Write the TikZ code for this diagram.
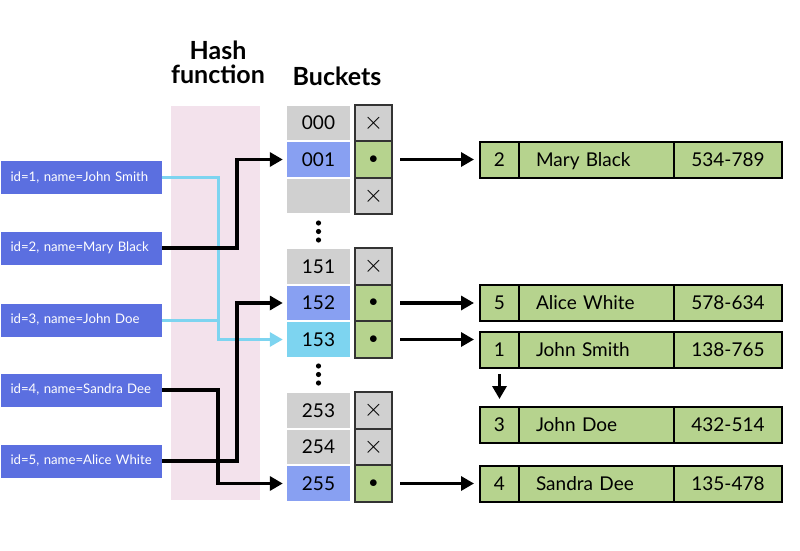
\documentclass[tikz,border=0pt]{standalone}
\usepackage{fontspec}
\setmainfont{Lato}
\usetikzlibrary{positioning,arrows.meta}
\definecolor{itemblue}{HTML}{5B6FE0}
\definecolor{hashpink}{HTML}{F3E2EC}
\definecolor{cellgray}{HTML}{D0D0D0}
\definecolor{cellblue}{HTML}{88A0F2}
\definecolor{cellcyan}{HTML}{7DD4F0}
\definecolor{recgreen}{HTML}{B6D38E}
\begin{document}
\begin{tikzpicture}[x=1pt,y=-1pt,
  item/.style={fill=itemblue,text=white,minimum height=33pt,text width=142pt,inner xsep=9.5pt,inner ysep=0pt,align=left,font=\fontsize{13.2}{15}\selectfont},
  bucket/.style={minimum width=63pt,minimum height=34.5pt,inner sep=0pt,text height=13.5pt,text depth=0pt,font=\fontsize{19}{22}\selectfont},
  slot/.style={draw=black!80,line width=2pt,minimum width=37pt,minimum height=36.5pt,inner sep=0pt,font=\fontsize{19}{22}\selectfont},
  noptr/.style={slot,fill=cellgray,font=\fontsize{28}{28}\selectfont},
  ptr/.style={slot,fill=recgreen},
  field/.style={draw,fill=recgreen,line width=2pt,minimum height=36pt,inner sep=0pt,outer sep=0pt,text height=13.5pt,text depth=0pt,font=\fontsize{19}{22}\selectfont},
  link/.style={line width=3.5pt,-{Triangle[length=13pt,width=14pt]}},
  hashline/.style={cellcyan,line width=3pt}
]
\useasboundingbox (0,0) rectangle (800,551);
\fill[hashpink] (171,106) rectangle (260,500);
\node[align=center,font=\bfseries\fontsize{25}{24}\selectfont] (hashhead) at (218,62) {Hash\\function};
\node[font=\bfseries\fontsize{25}{24}\selectfont] (buckethead) at (337,76) {Buckets};

% keys
\node[item] (item1) at (81.5,177.5) {id=1, name=John Smith};
\node[item] (item2) at (81.5,248) {id=2, name=Mary Black};
\node[item] (item3) at (81.5,320) {id=3, name=John Doe};
\node[item] (item4) at (81.5,390) {id=4, name=Sandra Dee};
\node[item] (item5) at (81.5,461) {id=5, name=Alice White};

% buckets
\foreach \k/\t/\y/\c/\f/\s in {000/000/123/cellgray/noptr/\times,001/001/159.5/cellblue/ptr/\bullet,002//196/cellgray/noptr/\times,
  151/151/266.5/cellgray/noptr/\times,152/152/303/cellblue/ptr/\bullet,153/153/339.5/cellcyan/ptr/\bullet,
  253/253/410.5/cellgray/noptr/\times,254/254/447/cellgray/noptr/\times,255/255/483.5/cellblue/ptr/\bullet}{
  \node[bucket,fill=\c] (b\k) at (318.5,\y) {\t};
  \node[\f] (p\k) at (373.5,\y) {$\s$};
}
\foreach \y in {223,231.5,240,366,374.5,383}
  \fill (318.5,\y) circle (2.6pt);

% entries
\foreach \n/\y/\who/\tel in {2/159.5/Mary Black/534-789,5/303/Alice White/578-634,1/350/John Smith/138-765,3/425/John Doe/432-514,4/483.5/Sandra Dee/135-478}{
  \node[field,minimum width=39pt] (r\n) at (499.5,\y) {\n};
  \node[field,text width=121pt,inner xsep=17pt,align=left,right=0pt of r\n] (r\n n) {\who};
  \node[field,minimum width=108pt,right=0pt of r\n n] (r\n t) {\tel};
}

% hash function
\coordinate (hA) at (218,0);
\coordinate (hB) at (237,0);
\draw[hashline,-{Triangle[length=13pt,width=14pt]},shorten >=4pt] (item1.east) -| (hA |- b153) -- (b153.west);
\draw[hashline] (item3.east) -- (hA |- item3);
\draw[link,shorten >=4pt] (item2.east) -| (hB |- b001) -- (b001.west);
\draw[link,shorten >=4pt] (item4.east) -| (hA |- b255) -- (b255.west);
\draw[link,shorten >=4pt] (item5.east) -| (hB |- b152) -- (b152.west);

% pointers
\draw[link,shorten <=7pt,shorten >=6pt] (p001.east) -- (r2.west);
\draw[link,shorten <=7pt,shorten >=6pt] (p152.east) -- (r5.west);
\draw[link,shorten <=7pt,shorten >=6pt] (p153.east) -- (p153.east -| r1.west);
\draw[link,shorten <=7pt,shorten >=6pt] (p255.east) -- (r4.west);
\draw[link,shorten <=6pt,shorten >=8pt] (r1.south) -- (r3.north);
\end{tikzpicture}
\end{document}
